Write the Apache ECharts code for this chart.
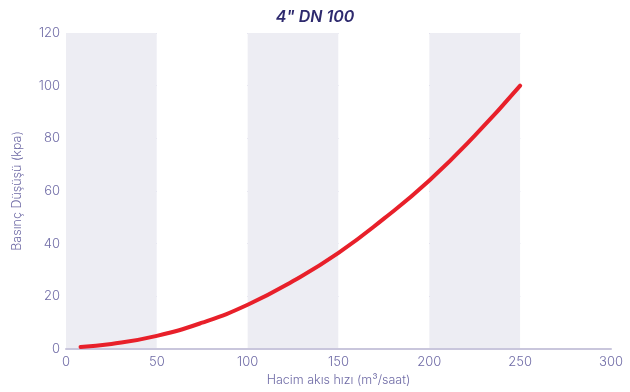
<!DOCTYPE html>
<html><head><meta charset="utf-8">
<script src="https://cdn.jsdelivr.net/npm/echarts@6/dist/echarts.min.js"></script>
<style>html,body{margin:0;padding:0;background:#fff}#c{width:630px;height:392px}</style>
</head><body><div id="c"></div>
<script>
const flowX = [8, 25, 50, 75, 100, 125, 150, 175, 200, 225, 250];
const dropY = [0.8, 1.9, 5, 10, 16.8, 25.8, 36.5, 49.5, 64, 81, 100];
const xTicks = [0, 50, 100, 150, 200, 250, 300];
const yTicks = [0, 20, 40, 60, 80, 100, 120];
const titleText = '4" DN 100';
const xName = 'Hacim akıs hızı (m³/saat)';
const yName = 'Basınç Düşüşü (kpa)';

const labelColor = '#6f6ba6';
const chart = echarts.init(document.getElementById('c'));
chart.setOption({
  animation: false,
  title: {text: titleText, left: 'center', top: 4,
    textStyle: {fontFamily: 'Inter', fontSize: 16, fontWeight: 600, fontStyle: 'italic', color: '#2e2a6e'}},
  grid: {left: 66, right: 19, top: 33, bottom: 43},
  xAxis: {type: 'value', min: xTicks[0], max: xTicks[xTicks.length-1], interval: 50,
    name: xName, nameLocation: 'middle', nameGap: 23,
    nameTextStyle: {fontFamily: 'Inter', fontSize: 12.5, fontWeight: 300, color: labelColor},
    axisLine: {show: true, lineStyle: {color: '#c9c6dc', width: 2}},
    axisTick: {show: false},
    axisLabel: {fontFamily: 'Inter', fontSize: 13, fontWeight: 300, color: labelColor, margin: 7},
    splitLine: {show: false},
    splitArea: {show: true, areaStyle: {color: ['#ededf3', '#ffffff']}}},
  yAxis: {type: 'value', min: yTicks[0], max: yTicks[yTicks.length-1], interval: 20,
    name: yName, nameLocation: 'middle', nameGap: 42,
    nameTextStyle: {fontFamily: 'Inter', fontSize: 12.5, fontWeight: 300, color: labelColor},
    axisLine: {show: false}, axisTick: {show: false},
    axisLabel: {fontFamily: 'Inter', fontSize: 13, fontWeight: 300, color: labelColor, margin: 6},
    splitLine: {show: true, lineStyle: {color: '#b3afd2', width: 1}}},
  series: [{type: 'line', data: flowX.map((x, i) => [x, dropY[i]]), smooth: true, showSymbol: false,
    lineStyle: {color: '#e8202a', width: 4, cap: 'round'}}]
});
</script></body></html>
